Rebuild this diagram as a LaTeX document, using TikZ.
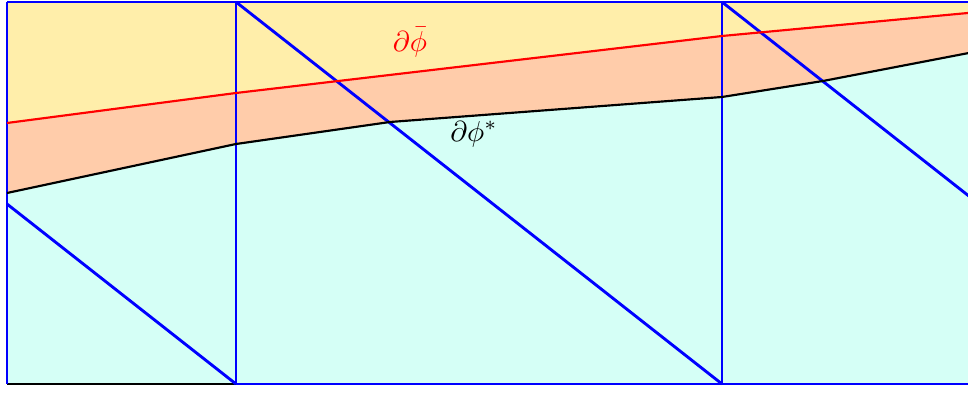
\documentclass[tikz,border=0pt]{standalone}
\usepackage{amsmath, amssymb}
\usetikzlibrary{calc}
\definecolor{mSand}{HTML}{FFEEAA}
\definecolor{mPeach}{HTML}{FFCCAA}
\definecolor{mMint}{HTML}{D5FFF6}

\begin{document}
\begin{tikzpicture}[x=0.0122cm, y=-0.0122cm,
    mesh/.style={blue, line width=1pt},
    level/.style={line width=0.75pt}]
    \useasboundingbox (0,0) rectangle (968,394);
    \clip (0,0) rectangle (968,394);
    % level set polylines
    \coordinate (r0) at (7,123);
    \coordinate (r1) at (236,93);
    \coordinate (r2) at (722,36);
    \coordinate (r3) at (1000,10);
    \coordinate (b0) at (7,193);
    \coordinate (b1) at (236,144);
    \coordinate (b2) at (390,122);
    \coordinate (b3) at (722,97);
    \coordinate (b4) at (823,81);
    \coordinate (b5) at (1000,47);
    % regions
    \fill[mMint] (7,2) rectangle (1000,384);
    \fill[mPeach] (7,2) -- (b0) -- (b1) -- (b2) -- (b3) -- (b4) -- (b5) -- (1000,2) -- cycle;
    \fill[mSand] (7,2) -- (r0) -- (r1) -- (r2) -- (r3) -- (1000,2) -- cycle;
    % mesh
    \draw[black, level] (7,384) -- (236,384);
    \foreach \x in {7, 236, 722} {
      \draw[mesh] (\x,2) -- (\x,384);
    }
    \draw[mesh] (7,2) -- (1000,2);
    \draw[mesh] (236,384) -- (1000,384);
    \draw[mesh] (7,204) -- (236,384);
    \draw[mesh] (236,2) -- (722,384);
    \draw[mesh] (722,2) -- (1208,384);
    % level sets
    \draw[red, level] (r0) -- (r1) -- (r2) -- (r3);
    \draw[black, level] (b0) -- (b1) -- (b2) -- (b3) -- (b4) -- (b5);
    \node[red] (phibar) at (410,42) {$\partial\bar{\phi}$};
    \node (phistar) at (474,134) {$\partial\phi^*$};
\end{tikzpicture}
\end{document}
